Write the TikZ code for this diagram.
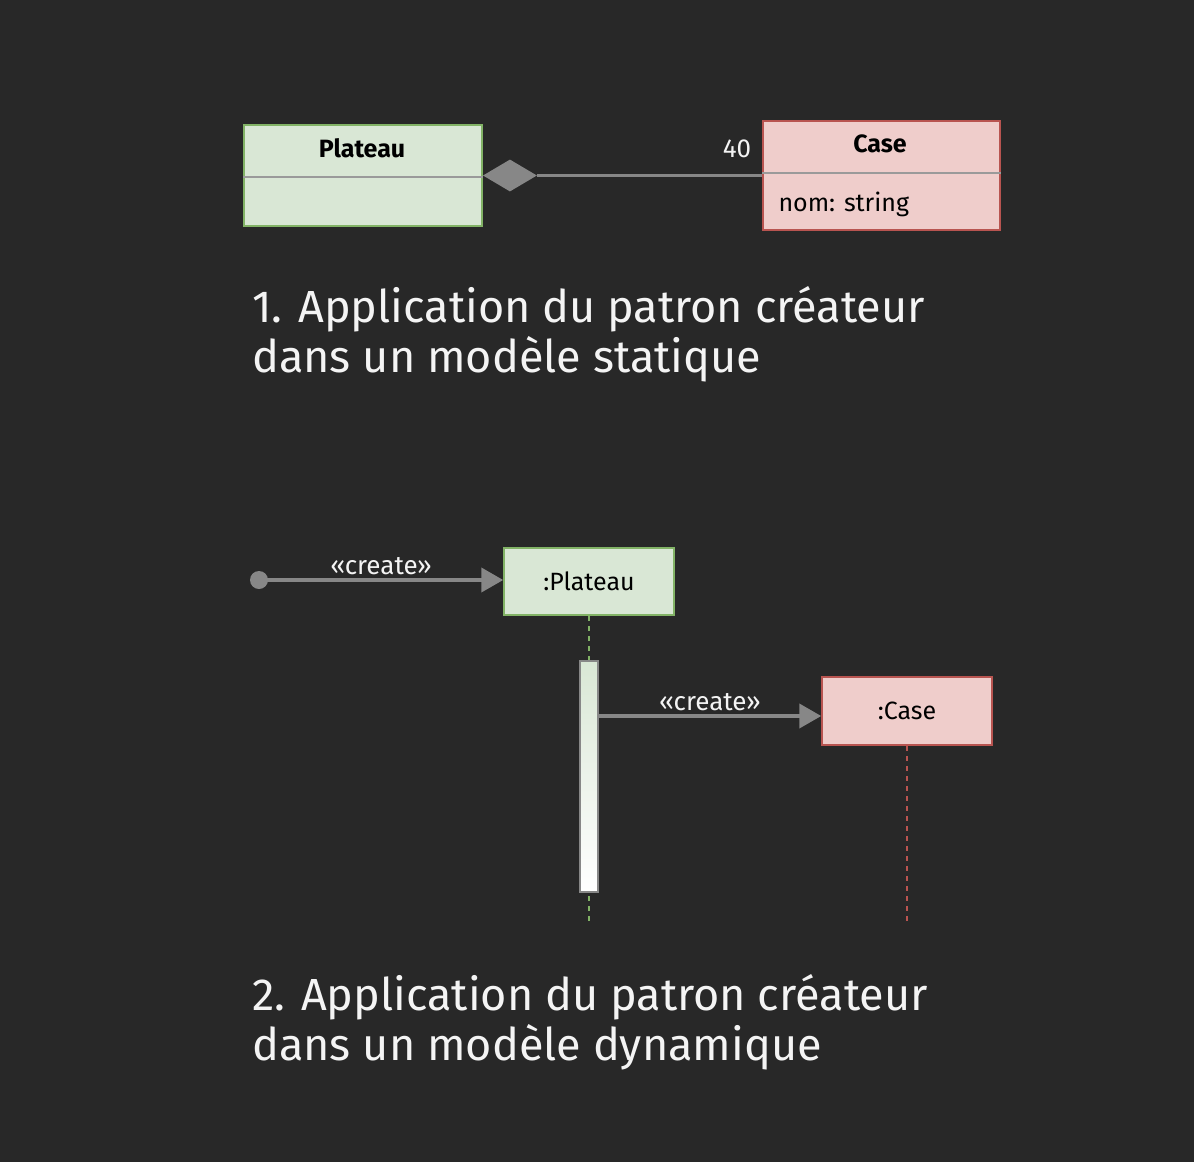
\documentclass[tikz,border=0pt]{standalone}
\usepackage{fontspec}
\setmainfont{Fira Sans}
\usetikzlibrary{arrows.meta,positioning,shapes.geometric}

\definecolor{bgdark}{HTML}{282828}
\definecolor{greenfill}{HTML}{D9E7D5}
\definecolor{greenline}{HTML}{82B366}
\definecolor{redfill}{HTML}{EFCDCB}
\definecolor{redline}{HTML}{B85450}
\definecolor{linkgray}{HTML}{878787}
\definecolor{sepgray}{HTML}{9A9A9A}
\definecolor{txtwhite}{HTML}{F4F4F4}

\tikzset{
  greenbox/.style={draw=greenline, fill=greenfill, line width=1.5pt, inner sep=0pt},
  redbox/.style={draw=redline, fill=redfill, line width=1.5pt, inner sep=0pt},
  msg/.style={draw=linkgray, line width=4pt, -{Triangle[length=22pt,width=24pt]}},
  lifeline/.style={line width=1.6pt, dash pattern=on 5pt off 5pt},
  titletxt/.style={text=txtwhite, font=\fontsize{45}{52}\selectfont, anchor=base west, inner sep=0pt},
  lbltxt/.style={text=txtwhite, font=\fontsize{26}{30}\selectfont},
}

\begin{document}
\begin{tikzpicture}[x=1pt,y=-1pt]
    \fill[bgdark] (0,0) rectangle (1194,1162);

    % modele statique
    \node[greenbox, minimum width=238pt, minimum height=101pt] (plateau) at (363,175.5) {};
    \draw[sepgray, line width=1.5pt] (plateau.west |- 0,177) -- (plateau.east |- 0,177);
    \node[font=\fontsize{25}{28}\selectfont\bfseries] (plateaunom) at (362,148) {Plateau};

    \node[redbox, minimum width=237pt, minimum height=109pt] (case) at (881.5,175.5) {};
    \draw[sepgray, line width=1.5pt] (case.west |- 0,173) -- (case.east |- 0,173);
    \node[font=\fontsize{25}{28}\selectfont\bfseries] (casenom) at (880,144) {Case};
    \node[font=\fontsize{25}{28}\selectfont, anchor=west] (caseattr) at (775,204) {nom: string};

    \node[diamond, fill=linkgray, minimum width=54pt, minimum height=32pt, inner sep=0pt, anchor=west] (comp) at (plateau.east) {};
    \draw[linkgray, line width=3.5pt] (comp.east) -- (case.west |- comp.east);
    \node[lbltxt] (mult) at (737,149) {40};

    \node[titletxt] (titreun) at (252,322) {1. Application du patron créateur};
    \node[titletxt] (titreunb) at (252,372) {dans un modèle statique};

    % modele dynamique
    \node[greenbox, minimum width=170pt, minimum height=67pt, font=\fontsize{25}{28}\selectfont] (plat) at (589,581.5) {:Plateau};
    \node[redbox, minimum width=170pt, minimum height=68pt, font=\fontsize{25}{28}\selectfont] (cse) at (907,711) {:Case};

    \node[circle, fill=linkgray, minimum size=18pt, inner sep=0pt] (debut) at (259,580) {};
    \draw[msg] (debut.center) -- (plat.west |- debut) node[midway, above=0pt, lbltxt] (crun) {«create»};

    \draw[greenline, lifeline] (plat.south) -- (589,925);
    \draw[redline, lifeline] (cse.south) -- (907,922);

    \node[draw=linkgray, line width=1.5pt, top color=greenfill, bottom color=white, minimum width=18pt, minimum height=231pt, inner sep=0pt] (act) at (589,776.5) {};

    \draw[msg] (act.east |- 0,716) -- (cse.west |- 0,716) node[midway, above=0pt, lbltxt] (crdeux) {«create»};

    \node[titletxt] (titredeux) at (252,1010) {2. Application du patron créateur};
    \node[titletxt] (titredeuxb) at (252,1060) {dans un modèle dynamique};
\end{tikzpicture}
\end{document}
